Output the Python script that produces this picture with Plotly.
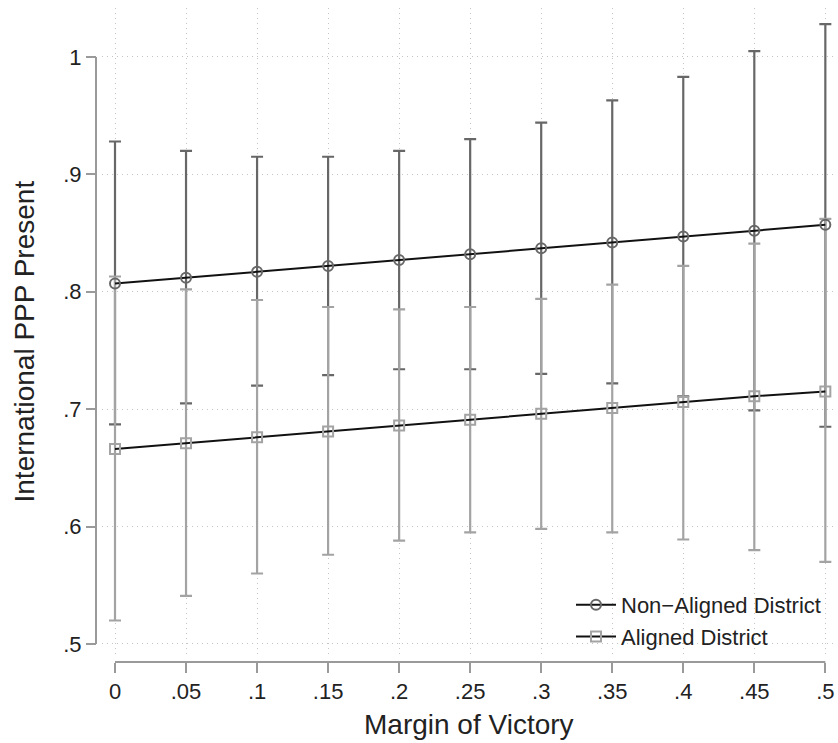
import plotly.graph_objects as go

# Margin of victory grid
margin = [0, 0.05, 0.1, 0.15, 0.2, 0.25, 0.3, 0.35, 0.4, 0.45, 0.5]

# Predicted probabilities and 95% CIs, non-aligned districts
nonaligned_mean = [0.807, 0.812, 0.817, 0.822, 0.827, 0.832, 0.837, 0.842, 0.847, 0.852, 0.857]
nonaligned_upper = [0.928, 0.920, 0.915, 0.915, 0.920, 0.930, 0.944, 0.963, 0.983, 1.005, 1.028]
nonaligned_lower = [0.687, 0.705, 0.720, 0.729, 0.734, 0.734, 0.730, 0.722, 0.711, 0.699, 0.685]

# Predicted probabilities and 95% CIs, aligned districts
aligned_mean = [0.666, 0.671, 0.676, 0.681, 0.686, 0.691, 0.696, 0.701, 0.706, 0.711, 0.715]
aligned_upper = [0.813, 0.802, 0.793, 0.787, 0.785, 0.787, 0.794, 0.806, 0.822, 0.841, 0.862]
aligned_lower = [0.520, 0.541, 0.560, 0.576, 0.588, 0.595, 0.598, 0.595, 0.589, 0.580, 0.570]

x_tickvals = [0, 0.05, 0.1, 0.15, 0.2, 0.25, 0.3, 0.35, 0.4, 0.45, 0.5]
x_ticktext = ["0", ".05", ".1", ".15", ".2", ".25", ".3", ".35", ".4", ".45", ".5"]
y_tickvals = [0.5, 0.6, 0.7, 0.8, 0.9, 1.0]
y_ticktext = [".5", ".6", ".7", ".8", ".9", "1"]

DARK = "#676767"
LIGHT = "#a3a3a3"
AXIS = "#9a9a9a"
FONT = "Liberation Sans, Arial, Helvetica, sans-serif"


def ci_trace(mean, upper, lower, color):
    return go.Scatter(
        x=margin,
        y=mean,
        mode="markers",
        marker=dict(size=1, color="rgba(0,0,0,0)"),
        error_y=dict(
            type="data",
            symmetric=False,
            array=[u - m for u, m in zip(upper, mean)],
            arrayminus=[m - l for m, l in zip(mean, lower)],
            color=color,
            thickness=2.2,
            width=6,
        ),
        showlegend=False,
        hoverinfo="skip",
    )


fig = go.Figure()
fig.add_trace(ci_trace(nonaligned_mean, nonaligned_upper, nonaligned_lower, DARK))
fig.add_trace(ci_trace(aligned_mean, aligned_upper, aligned_lower, LIGHT))

fig.add_trace(go.Scatter(
    x=margin, y=nonaligned_mean, mode="lines+markers", name="Non\u2212Aligned District",
    line=dict(color="#111111", width=2),
    marker=dict(symbol="circle-open", size=10, color=DARK, line=dict(width=2, color=DARK)),
))
fig.add_trace(go.Scatter(
    x=margin, y=aligned_mean, mode="lines+markers", name="Aligned District",
    line=dict(color="#111111", width=2),
    marker=dict(symbol="square-open", size=10, color=LIGHT, line=dict(width=2, color=LIGHT)),
))

# Layout geometry (pixels)
W, H = 838, 743
ML, MR, MT, MB = 80, 3, 8, 60
PW, PH = W - ML - MR, H - MT - MB
x_dom0 = (102 - ML) / PW
y_pos = (96 - ML) / PW
y_dom0 = (H - MB - 655) / PH
x_pos = (H - MB - 662) / PH

fig.update_layout(
    width=W, height=H,
    margin=dict(l=ML, r=MR, t=MT, b=MB),
    paper_bgcolor="white", plot_bgcolor="white",
    font=dict(family=FONT, size=22, color="#222222"),
    xaxis=dict(
        domain=[x_dom0, 1], anchor="free", position=x_pos,
        range=[-0.00915, 0.5068],
        tickvals=x_tickvals, ticktext=x_ticktext,
        ticks="outside", ticklen=10, tickwidth=2, tickcolor=AXIS,
        showline=False, zeroline=False,
        showgrid=True, gridcolor="#c4c4c4", gridwidth=1, griddash="1px,4px",
        tickfont=dict(size=22, color="#222222"),
    ),
    yaxis=dict(
        domain=[y_dom0, 1], anchor="free", position=y_pos,
        range=[0.4906, 1.0417],
        tickvals=y_tickvals, ticktext=y_ticktext,
        ticks="outside", ticklen=10, tickwidth=2, tickcolor=AXIS,
        showline=False, zeroline=False,
        showgrid=True, gridcolor="#c4c4c4", gridwidth=1, griddash="1px,4px",
        tickfont=dict(size=22, color="#222222"),
    ),
    legend=dict(
        x=(826 - ML) / PW, xanchor="right",
        y=(H - MB - 658) / PH, yanchor="bottom",
        bgcolor="rgba(0,0,0,0)",
        font=dict(size=22, color="#222222"),
        tracegroupgap=0,
        itemwidth=40,
    ),
    showlegend=True,
)

# Axis lines spanning only the labelled ranges
fig.add_shape(type="line", xref="paper", yref="y",
              x0=y_pos, x1=y_pos, y0=y_tickvals[0], y1=y_tickvals[-1],
              line=dict(color=AXIS, width=2), layer="below")
fig.add_shape(type="line", xref="x", yref="paper",
              x0=x_tickvals[0], x1=x_tickvals[-1], y0=x_pos, y1=x_pos,
              line=dict(color=AXIS, width=2), layer="below")

# Axis titles
fig.add_annotation(text="Margin of Victory", xref="paper", yref="paper",
                   x=(469.5 - ML) / PW, y=(H - MB - 724) / PH,
                   xanchor="center", yanchor="middle", showarrow=False,
                   font=dict(size=28, color="#222222"))
fig.add_annotation(text="International PPP Present", xref="paper", yref="paper",
                   x=(24 - ML) / PW, y=(H - MB - 341.5) / PH,
                   xanchor="center", yanchor="middle", textangle=-90, showarrow=False,
                   font=dict(size=28, color="#222222"))

fig.write_html("out.html")
